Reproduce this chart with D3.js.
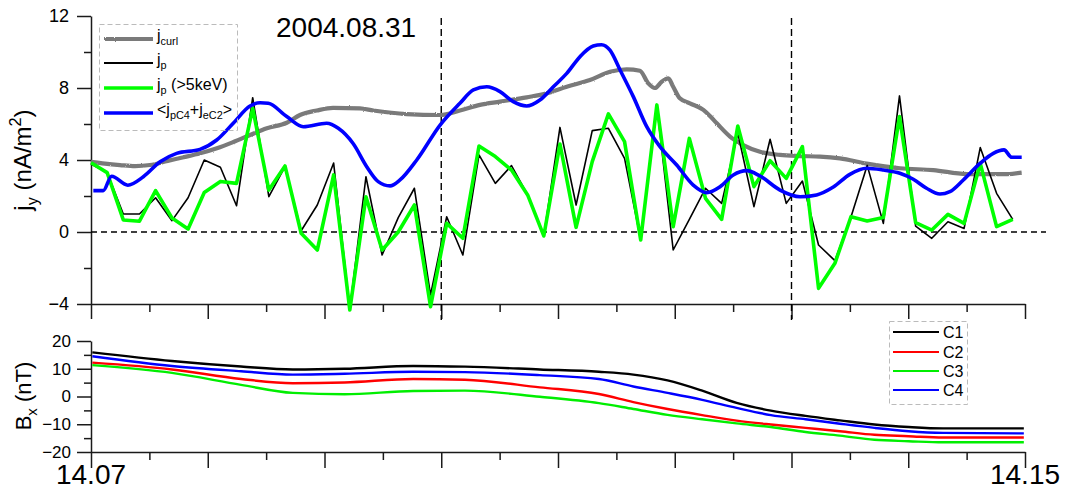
<!DOCTYPE html>
<html><head><meta charset="utf-8">
<script src="https://cdn.jsdelivr.net/npm/d3@7"></script>
<style>body{margin:0;background:#fff} svg{display:block} text{font-family:Arial,"Liberation Sans",sans-serif}</style>
</head><body><svg id="c" width="1068" height="490"></svg>
<script>
// ---- DATA (time in seconds after 14:07:00) ----
const jpTime = [0, 8.3, 16.6, 24.9, 33.2, 41.6, 49.9, 58.2, 66.5, 74.8, 83.1, 91.4, 99.7, 108.0, 116.3, 124.7, 133.0, 141.3, 149.6, 157.9, 166.2, 174.5, 182.8, 191.1, 199.4, 207.8, 216.1, 224.4, 232.7, 241.0, 249.3, 257.6, 265.9, 274.2, 282.5, 290.8, 299.2, 307.5, 315.8, 324.1, 332.4, 340.7, 349.0, 357.3, 365.6, 373.9, 382.3, 390.6, 398.9, 407.2, 415.5, 423.8, 432.1, 440.4, 448.7, 457.0, 465.4, 473.7];
const jpValues = [3.78, 3.3, 1.0, 1.0, 1.9, 0.63, 1.9, 4.0, 3.6, 1.46, 7.46, 1.96, 3.63, 0.07, 1.5, 3.83, -4.3, 3.07, -1.28, 0.8, 2.43, -3.5, 0.85, -1.28, 4.28, 2.7, 3.69, 2.06, -0.22, 5.81, 1.5, 5.63, 5.76, 4.09, -0.44, 7.0, -1.0, 0.7, 2.43, 1.59, 5.5, 1.41, 5.15, 1.59, 2.83, -0.72, -1.59, 0.85, 3.7, 0.48, 7.56, 0.33, -0.35, 0.57, 0.2, 4.69, 2.15, 0.7];
const jpHotValues = [3.85, 3.3, 0.67, 0.6, 2.3, 0.78, 0.17, 2.19, 2.81, 2.7, 6.87, 2.33, 3.67, -0.07, -1.0, 3.17, -4.33, 1.96, -1.0, 0.0, 1.5, -4.15, 0.48, -0.35, 4.78, 4.19, 3.44, 2.06, -0.22, 4.89, 0.26, 3.91, 6.56, 5.02, -0.44, 7.06, 0.3, 5.2, 1.87, 0.7, 5.89, 2.52, 3.96, 2.98, 4.74, -3.13, -1.74, 0.85, 0.61, 0.8, 6.41, 0.52, 0.11, 0.98, 0.48, 3.81, 0.3, 0.7];
const jcurlData = [[0.0,3.9],[7.2,3.8],[14.9,3.72],[22.6,3.66],[30.3,3.72],[39.4,3.95],[47.6,4.15],[56.1,4.37],[64.7,4.65],[73.2,5.0],[81.8,5.39],[90.4,5.76],[100.6,6.07],[107.4,6.5],[116.0,6.75],[124.4,6.9],[138.2,6.87],[145.1,6.75],[162.2,6.55],[179.4,6.5],[189.6,6.75],[199.9,7.06],[210.2,7.24],[223.9,7.48],[234.2,7.7],[244.5,8.07],[256.4,8.44],[266.7,8.9],[275.3,9.04],[282.1,8.96],[286.4,8.26],[289.8,8.0],[293.3,8.35],[296.7,8.54],[299.2,8.07],[302.6,7.43],[307.8,7.15],[314.7,6.78],[318.1,6.44],[321.6,6.04],[328.4,5.3],[335.2,4.83],[343.8,4.46],[354.1,4.28],[364.4,4.22],[374.6,4.19],[384.9,4.09],[398.6,3.8],[415.7,3.54],[432.9,3.44],[450.0,3.22],[470.6,3.22],[478.3,3.3]];
const jSumData = [[1.2,2.3],[6.3,2.3],[10.6,3.1],[18.9,2.6],[26.9,3.07],[35.5,3.9],[44.0,4.37],[56.0,4.59],[64.6,5.11],[73.1,6.04],[81.7,7.0],[86.9,7.18],[91.1,7.15],[100.6,6.41],[109.1,5.85],[121.1,6.04],[127.1,5.76],[134.8,4.9],[141.7,3.63],[147.6,2.8],[153.7,2.56],[158.8,2.89],[167.4,4.0],[179.4,5.94],[189.6,7.15],[196.5,7.89],[203.4,8.07],[210.2,7.8],[217.0,7.24],[223.9,7.0],[230.7,7.33],[237.6,8.07],[244.5,8.81],[251.3,9.74],[258.1,10.33],[262.4,10.4],[266.7,10.1],[271.9,9.0],[278.7,7.52],[285.6,5.85],[292.4,4.74],[301.0,3.72],[309.5,2.61],[316.4,2.19],[323.3,2.52],[330.1,3.17],[337.0,3.41],[343.8,3.11],[354.1,2.33],[364.4,1.96],[372.9,2.06],[381.5,2.5],[390.0,3.2],[398.6,3.54],[407.2,3.44],[415.7,3.26],[422.6,2.93],[429.4,2.43],[436.3,2.11],[441.4,2.24],[448.3,2.89],[456.9,3.81],[463.7,4.37],[469.2,4.56],[473.2,4.15],[478.3,4.15]];

const bxTime = [0.7, 41.6, 77.1, 103.7, 130.3, 165.6, 192.2, 230.7, 261.0, 278.7, 296.3, 314.1, 331.8, 349.4, 367.2, 384.9, 402.6, 420.2, 437.9, 479.4];
const bxC1 = [15.9, 12.8, 10.8, 9.75, 10.0, 11.0, 10.75, 9.75, 8.9, 7.9, 5.8, 2.1, -2.3, -5.1, -7.0, -8.6, -10.1, -11.0, -11.5, -11.5];
const bxC2 = [12.2, 9.75, 6.3, 4.8, 5.05, 6.3, 6.05, 3.3, 0.9, -2.0, -4.5, -6.7, -8.7, -10.1, -11.3, -12.5, -13.8, -14.3, -14.8, -14.8];
const bxC3 = [11.3, 8.5, 4.2, 1.3, 0.8, 2.0, 2.1, -0.1, -2.4, -4.5, -6.6, -8.2, -9.7, -11.0, -12.8, -14.1, -15.6, -16.1, -16.5, -16.5];
const bxC4 = [14.5, 11.0, 9.1, 7.9, 8.2, 8.9, 8.8, 7.7, 6.3, 3.6, 1.3, -1.2, -4.1, -6.7, -8.2, -9.8, -11.3, -12.5, -13.1, -13.3];

const topYTicks = [-4, 0, 4, 8, 12];
const topYMinor = [-2, 2, 6, 10];
const botYTicks = [-20, -10, 0, 10, 20];
const botYMinor = [-15, -5, 5, 15];
const xMajor = [0, 60, 120, 180, 240, 300, 360, 420, 480];
const xMinor = [30, 90, 150, 210, 270, 330, 390, 450];
const xLabels = [[0, "14.07"], [480, "14.15"]];
const markTimes = [180, 360];
const title = "2004.08.31";

// ---- DRAW ----
const svg = d3.select("#c");
const defs = svg.append("defs");
const flt = defs.append("filter").attr("id", "rough").attr("filterUnits", "userSpaceOnUse")
  .attr("x", 0).attr("y", 0).attr("width", 1068).attr("height", 490);
flt.append("feTurbulence").attr("type", "fractalNoise").attr("baseFrequency", 0.9).attr("numOctaves", 1).attr("seed", 3).attr("result", "n");
flt.append("feDisplacementMap").attr("in", "SourceGraphic").attr("in2", "n").attr("scale", 2.2).attr("xChannelSelector", "R").attr("yChannelSelector", "G");

const x = d3.scaleLinear().domain([0, 480]).range([91, 1025]);
const yT = d3.scaleLinear().domain([-4, 12]).range([304, 16]);
const yB = d3.scaleLinear().domain([-20, 20]).range([452, 341]);
const FF = 'Arial, "Liberation Sans", sans-serif';
const AX = "#1a1a1a";
const GRAY = "#7a7a7a";

function styleAxis(g, fs) {
  g.attr("font-family", FF).attr("font-size", fs);
  g.selectAll("path,line").attr("stroke", AX).attr("stroke-width", 1.5);
  g.selectAll("text").attr("fill", "#000");
}
// top panel axes
svg.append("g").attr("transform", "translate(91,0)")
  .call(d3.axisLeft(yT).tickValues(topYMinor).tickSize(7).tickFormat("").tickSizeOuter(0))
  .call(g => { styleAxis(g, 18); g.select(".domain").remove(); });
svg.append("g").attr("transform", "translate(91,0)")
  .call(d3.axisLeft(yT).tickValues(topYTicks).tickSize(14).tickPadding(8).tickSizeOuter(0))
  .call(g => styleAxis(g, 18));
svg.append("g").attr("transform", "translate(0,304)")
  .call(d3.axisBottom(x).tickValues(xMinor).tickSize(8).tickFormat("").tickSizeOuter(0))
  .call(g => { styleAxis(g, 18); g.select(".domain").remove(); });
svg.append("g").attr("transform", "translate(0,304)")
  .call(d3.axisBottom(x).tickValues(xMajor).tickSize(15).tickFormat("").tickSizeOuter(0))
  .call(g => styleAxis(g, 18));
// bottom panel axes
svg.append("g").attr("transform", "translate(91,0)")
  .call(d3.axisLeft(yB).tickValues(botYMinor).tickSize(7).tickFormat("").tickSizeOuter(0))
  .call(g => { styleAxis(g, 17); g.select(".domain").remove(); });
svg.append("g").attr("transform", "translate(91,0)")
  .call(d3.axisLeft(yB).tickValues(botYTicks).tickSize(14).tickPadding(6).tickSizeOuter(0))
  .call(g => styleAxis(g, 17));
svg.append("g").attr("transform", "translate(0,452)")
  .call(d3.axisBottom(x).tickValues(xMinor).tickSize(8).tickFormat("").tickSizeOuter(0))
  .call(g => { styleAxis(g, 17); g.select(".domain").remove(); });
svg.append("g").attr("transform", "translate(0,452)")
  .call(d3.axisBottom(x).tickValues(xMajor).tickSize(16).tickFormat("").tickSizeOuter(0))
  .call(g => styleAxis(g, 17));

svg.selectAll(".xlab").data(xLabels).enter().append("text")
  .attr("x", d => x(d[0])).attr("y", 484).attr("text-anchor", "middle")
  .attr("font-size", 28).text(d => d[1]);

// reference dashed lines
svg.append("line").attr("x1", x(0)).attr("x2", 1046).attr("y1", yT(0)).attr("y2", yT(0))
  .attr("stroke", "#000").attr("stroke-width", 1.4).attr("stroke-dasharray", "6,4");
svg.selectAll(".vmark").data(markTimes).enter().append("line")
  .attr("x1", d => x(d)).attr("x2", d => x(d)).attr("y1", 18).attr("y2", 320)
  .attr("stroke", "#000").attr("stroke-width", 1.4).attr("stroke-dasharray", "7,4");

// top panel series
svg.append("path").datum(jcurlData)
  .attr("d", d3.line().x(d => x(d[0])).y(d => yT(d[1])).curve(d3.curveMonotoneX))
  .attr("fill", "none").attr("stroke", GRAY).attr("stroke-width", 4.2).attr("filter", "url(#rough)");
const lineJp = d3.line().x((d, i) => x(jpTime[i])).y(d => yT(d));
svg.append("path").datum(jpValues).attr("d", lineJp)
  .attr("fill", "none").attr("stroke", "#000").attr("stroke-width", 1.6).attr("stroke-linejoin", "round");
svg.append("path").datum(jpHotValues).attr("d", lineJp)
  .attr("fill", "none").attr("stroke", "#00ff00").attr("stroke-width", 3.6).attr("stroke-linejoin", "round");
svg.append("path").datum(jSumData)
  .attr("d", d3.line().x(d => x(d[0])).y(d => yT(d[1])).curve(d3.curveMonotoneX))
  .attr("fill", "none").attr("stroke", "#0000ff").attr("stroke-width", 3.6).attr("stroke-linejoin", "round");

// bottom panel series
const bxSeries = [["C1", bxC1, "#000"], ["C2", bxC2, "#ff0000"], ["C3", bxC3, "#00ee00"], ["C4", bxC4, "#0000ff"]];
const lineB = d3.line().x((d, i) => x(bxTime[i])).y(d => yB(d)).curve(d3.curveMonotoneX);
bxSeries.forEach(s => {
  svg.append("path").datum(s[1]).attr("d", lineB)
    .attr("fill", "none").attr("stroke", s[2]).attr("stroke-width", 2.4);
});

// rich text helper (no empty spans)
function rich(sel, parts, fs) {
  let pending = 0;
  parts.forEach(p => {
    const [t, kind] = p;
    const ts = sel.append("tspan").text(t);
    let dy = pending;
    if (kind === "sub") { ts.attr("font-size", fs * 0.68); dy += fs * 0.28; pending = -fs * 0.28; }
    else if (kind === "sup") { ts.attr("font-size", fs * 0.68); dy += -fs * 0.4; pending = fs * 0.4; }
    else { pending = 0; }
    if (dy !== 0) ts.attr("dy", dy);
  });
}

// title
svg.append("text").attr("x", 276).attr("y", 37).attr("font-size", 28).text(title);

// axis titles
const yl1 = svg.append("text").attr("transform", "translate(31,160) rotate(-90)")
  .attr("text-anchor", "middle").attr("font-size", 24);
rich(yl1, [["j"], ["y", "sub"], [" (nA/m"], ["2", "sup"], [")"]], 24);
const yl2 = svg.append("text").attr("transform", "translate(31,396) rotate(-90)")
  .attr("text-anchor", "middle").attr("font-size", 22);
rich(yl2, [["B"], ["x", "sub"], [" (nT)"]], 22);

// top legend
svg.append("rect").attr("x", 99.5).attr("y", 24.5).attr("width", 138).attr("height", 106)
  .attr("fill", "none").attr("stroke", "#bbb").attr("stroke-width", 1).attr("stroke-dasharray", "5,3");
const legTop = [
  { c: GRAY, w: 4, y: 39, rough: true, parts: [["j"], ["curl", "sub"]] },
  { c: "#000", w: 1.8, y: 63, parts: [["j"], ["p", "sub"]] },
  { c: "#00ff00", w: 3.6, y: 88, parts: [["j"], ["p", "sub"], [" (>5keV)"]] },
  { c: "#0000ff", w: 3.6, y: 113, parts: [["<j"], ["pC4", "sub"], ["+j"], ["eC2", "sub"], [">"]] }
];
legTop.forEach(d => {
  const ln = svg.append("line").attr("x1", 104).attr("x2", 153).attr("y1", d.y).attr("y2", d.y)
    .attr("stroke", d.c).attr("stroke-width", d.w);
  if (d.rough) ln.attr("filter", "url(#rough)");
  const t = svg.append("text").attr("x", 157).attr("y", d.y + 2).attr("font-size", 16);
  rich(t, d.parts, 16);
});

// bottom legend
svg.append("rect").attr("x", 889.5).attr("y", 321.5).attr("width", 78).attr("height", 83)
  .attr("fill", "none").attr("stroke", "#bbb").attr("stroke-width", 1).attr("stroke-dasharray", "5,3");
const legYs = [332, 352, 371, 390];
bxSeries.forEach((s, i) => {
  svg.append("line").attr("x1", 893).attr("x2", 939).attr("y1", legYs[i]).attr("y2", legYs[i])
    .attr("stroke", s[2]).attr("stroke-width", 2);
  svg.append("text").attr("x", 943).attr("y", legYs[i] + 6).attr("font-size", 16).text(s[0]);
});
</script></body></html>
